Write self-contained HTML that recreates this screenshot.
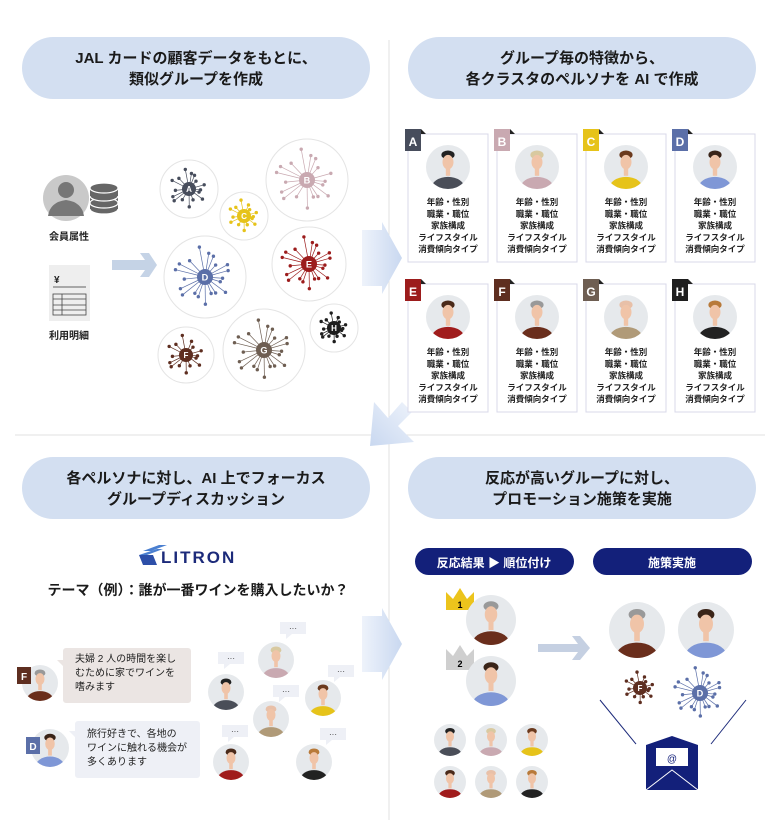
<!DOCTYPE html>
<html><head><meta charset="utf-8">
<style>
html,body{margin:0;padding:0;background:#fff;}
svg{display:block;}
text{font-family:"Liberation Sans","Noto Sans CJK JP",sans-serif;}
</style></head>
<body>
<svg id="s" width="780" height="837" viewBox="0 0 780 837" xmlns="http://www.w3.org/2000/svg">
<defs>
<linearGradient id="ga" x1="0" x2="1" y1="0" y2="0"><stop offset="0" stop-color="#eef3fb"/><stop offset="1" stop-color="#c9d8f0"/></linearGradient>
<linearGradient id="gd" x1="1" x2="0" y1="0" y2="1"><stop offset="0" stop-color="#eef3fb"/><stop offset="1" stop-color="#c9d8f0"/></linearGradient>
</defs>
<line x1="389" y1="40" x2="389" y2="820" stroke="#e2e2e2" stroke-width="1"/>
<line x1="15" y1="435" x2="765" y2="435" stroke="#e2e2e2" stroke-width="1"/>
<g fill="#d3dff1">
<rect x="22" y="37" width="348" height="62" rx="31"/>
<rect x="408" y="37" width="348" height="62" rx="31"/>
<rect x="22" y="457" width="348" height="62" rx="31"/>
<rect x="408" y="457" width="348" height="62" rx="31"/>
</g>
<g font-size="15" font-weight="bold" fill="#1a1a1a" text-anchor="middle">
<text x="196" y="63">JAL カードの顧客データをもとに、</text>
<text x="196" y="84">類似グループを作成</text>
<text x="582" y="63">グループ毎の特徴から、</text>
<text x="582" y="84">各クラスタのペルソナを AI で作成</text>
<text x="196" y="483">各ペルソナに対し、AI 上でフォーカス</text>
<text x="196" y="504">グループディスカッション</text>
<text x="582" y="483">反応が高いグループに対し、</text>
<text x="582" y="504">プロモーション施策を実施</text>
</g>
<path d="M362 230 L382 230 L382 222 L402 258 L382 294 L382 286 L362 286 Z" fill="url(#ga)"/>
<path d="M362 616 L382 616 L382 608 L402 644 L382 680 L382 672 L362 672 Z" fill="url(#ga)"/>
<path d="M412 412 L398 426 L414 442 L370 446 L374 402 L388 418 L402 402 Z" fill="url(#gd)"/>
<circle cx="66" cy="198" r="23" fill="#c9c9c9"/>
<circle cx="66" cy="190" r="8" fill="#777"/>
<path d="M48 216 Q50 202 66 200 Q82 202 84 216 Z" fill="#777"/>
<g fill="#666" stroke="#fff" stroke-width="1.2">
<ellipse cx="104" cy="209" rx="14" ry="5"/><rect x="90" y="196" width="28" height="13" stroke="none"/>
<ellipse cx="104" cy="203" rx="14" ry="5"/><ellipse cx="104" cy="196" rx="14" ry="5"/><rect x="90" y="188" width="28" height="8" stroke="none"/>
<ellipse cx="104" cy="188" rx="14" ry="5"/>
</g>
<text x="69" y="240" font-size="10" font-weight="bold" text-anchor="middle" fill="#222">会員属性</text>
<rect x="49" y="265" width="41" height="56" fill="#eee"/>
<text x="54" y="283" font-size="10" font-weight="bold" fill="#222">¥</text>
<line x1="53" y1="287" x2="86" y2="287" stroke="#333" stroke-width="0.8"/>
<g stroke="#444" stroke-width="0.8" fill="none"><rect x="53" y="294" width="33" height="21"/><line x1="53" y1="299" x2="86" y2="299"/><line x1="53" y1="305" x2="86" y2="305"/><line x1="53" y1="310" x2="86" y2="310"/><line x1="62" y1="294" x2="62" y2="315"/></g>
<text x="69" y="339" font-size="10" font-weight="bold" text-anchor="middle" fill="#222">利用明細</text>
<path d="M112 260 L145 260 L140 253 L149 253 L157 265 L149 277 L140 277 L145 270 L112 270 Z" fill="#c5d3e6"/>
<g id="clusters"></g>
<g id="cards"></g>
<g transform="translate(137,545)">
<path d="M6 6 L22 0 L30 0 L14 6 Z M2 10 L20 4 L26 4 L10 10 Z" fill="#4a7fd0"/>
<path d="M2 10 L16 10 L20 20 L6 20 Z" fill="#2d4fa8"/>
<text x="24" y="18" font-size="17" font-weight="bold" fill="#1c2a7a" letter-spacing="2">LITRON</text>
</g>
<text x="198" y="595" font-size="14" font-weight="bold" text-anchor="middle" fill="#1a1a1a">テーマ（例）：誰が一番ワインを購入したいか？</text>
<path d="M66 648 h122 a3 3 0 0 1 3 3 v49 a3 3 0 0 1 -3 3 h-122 a3 3 0 0 1 -3 -3 v-34 l-6 -6 l6 0 v-9 a3 3 0 0 1 3 -3z" fill="#ebe5e3"/>
<g font-size="10" fill="#222"><text x="75" y="662">夫婦 2 人の時間を楽し</text><text x="75" y="676">むために家でワインを</text><text x="75" y="690">嗜みます</text></g>
<path d="M78 721 h119 a3 3 0 0 1 3 3 v51 a3 3 0 0 1 -3 3 h-119 a3 3 0 0 1 -3 -3 v-38 l-6 -6 l6 0 v-7 a3 3 0 0 1 3 -3z" fill="#eef0f6"/>
<g font-size="10" fill="#222"><text x="87" y="737">旅行好きで、各地の</text><text x="87" y="751">ワインに触れる機会が</text><text x="87" y="765">多くあります</text></g>
<g id="bl"></g>
<rect x="415" y="548" width="159" height="27" rx="13.5" fill="#13207a"/>
<rect x="593" y="548" width="159" height="27" rx="13.5" fill="#13207a"/>
<text x="494" y="567" font-size="12" font-weight="bold" fill="#fff" text-anchor="middle">反応結果 ▶ 順位付け</text>
<text x="672" y="567" font-size="12" font-weight="bold" fill="#fff" text-anchor="middle">施策実施</text>
<path d="M446 592 L453 599 L460 588 L467 599 L474 592 L474 610 L446 610 Z" fill="#ecc41c"/>
<text x="460" y="608" font-size="9" font-weight="bold" text-anchor="middle">1</text>
<path d="M446 649 L453 656 L460 645 L467 656 L474 649 L474 670 L446 670 Z" fill="#cfcfcf"/>
<text x="460" y="667" font-size="9" font-weight="bold" text-anchor="middle">2</text>
<path d="M538 644 L578 644 L572 636 L580 636 L590 648 L580 660 L572 660 L578 652 L538 652 Z" fill="#c5d0e2"/>
<line x1="600" y1="700" x2="636" y2="744" stroke="#1c2a7a" stroke-width="1"/>
<line x1="746" y1="700" x2="711" y2="744" stroke="#1c2a7a" stroke-width="1"/>
<rect x="646" y="745" width="52" height="45" fill="#13207a"/>
<path d="M646 745 L672 736 L698 745 Z" fill="#13207a"/>
<rect x="656" y="748" width="32" height="18" fill="#fff"/>
<text x="672" y="762" font-size="10" text-anchor="middle" fill="#13207a">@</text>
<path d="M646 790 L672 770 L698 790" stroke="#fff" fill="none" stroke-width="1"/>
<g id="br"></g>
</svg>
<script>
var S='http://www.w3.org/2000/svg';
function el(p,t,a,txt){var e=document.createElementNS(S,t);for(var k in a)e.setAttribute(k,a[k]);if(txt)e.textContent=txt;p.appendChild(e);return e;}
var C={A:'#474d5c',B:'#c9a9b1',C:'#e6c31a',D:'#5b6fa8',E:'#9c1c1c',F:'#5e2e20',G:'#6e5e52',H:'#1e1e1e'};
function cluster(g,L,cx,cy,R,sp,ring,nr){
 if(ring)el(g,'circle',{cx:cx,cy:cy,r:R,fill:'#fff',stroke:'#e4e4e4'});
 var n=sp[0],len=sp[1];
 for(var i=0;i<n;i++){var a=i*2.399+0.3,l=len*(0.5+0.5*((i*37)%10)/10);
  var x=cx+Math.cos(a)*l,y=cy+Math.sin(a)*l;
  el(g,'line',{x1:cx,y1:cy,x2:x,y2:y,stroke:C[L],'stroke-width':0.7});
  el(g,'circle',{cx:x,cy:y,r:1.7,fill:C[L]});}
 el(g,'circle',{cx:cx,cy:cy,r:nr,fill:C[L]});
 el(g,'text',{x:cx,y:cy+nr*0.42,'font-size':nr*1.15,'font-weight':'bold','text-anchor':'middle',fill:'#fff'},L);
}
var cg=document.getElementById('clusters');
[['A',189,189,29,[16,21],7],['B',307,180,41,[18,33],8],['C',244,216,24,[14,17],7],['D',205,277,41,[20,32],8],['E',309,264,37,[20,29],8],['F',186,355,28,[15,21],7],['G',264,350,41,[20,32],8],['H',334,328,24,[15,16],7]].forEach(function(c){cluster(cg,c[0],c[1],c[2],c[3],c[4],true,c[5]);});
var skin='#f0c4a8',hair={A:'#222',B:'#d8c9a0',C:'#6b3a1e',D:'#3a2418',E:'#4a2a1a',F:'#999',G:'#e8c0a8',H:'#b87a3a'};
var body={A:'#4a4e58',B:'#c9a9b1',C:'#e6c31a',D:'#7f97d6',E:'#a01c1c',F:'#6a2e1c',G:'#b09a78',H:'#222'};
function avatar(g,L,cx,cy,r){
 el(g,'circle',{cx:cx,cy:cy,r:r,fill:'#e6e9ec'});
 var cp='cp'+Math.random().toString(36).slice(2);
 var d=el(g,'clipPath',{id:cp});el(d,'circle',{cx:cx,cy:cy,r:r});
 var gg=el(g,'g',{'clip-path':'url(#'+cp+')'});
 el(gg,'ellipse',{cx:cx,cy:cy+r*0.95,rx:r*0.75,ry:r*0.5,fill:body[L]});
 el(gg,'rect',{x:cx-r*0.1,y:cy+r*0.05,width:r*0.2,height:r*0.35,fill:skin});
 el(gg,'ellipse',{cx:cx,cy:cy-r*0.55,rx:r*0.3,ry:r*0.2,fill:hair[L]});
 el(gg,'ellipse',{cx:cx,cy:cy-r*0.22,rx:r*0.25,ry:r*0.33,fill:skin});
}
var cards=document.getElementById('cards');
var lines=['年齢・性別','職業・職位','家族構成','ライフスタイル','消費傾向タイプ'];
'ABCDEFGH'.split('').forEach(function(L,i){
 var x=[408,497,586,675][i%4],y=i<4?134:284;
 el(cards,'rect',{x:x,y:y,width:80,height:128,fill:'#fff',stroke:'#d8d8ea'});
 el(cards,'path',{d:'M'+(x+13)+' '+(y-5)+' l5 5 h-5 z',fill:'#222'});
 el(cards,'rect',{x:x-3,y:y-5,width:16,height:22,fill:C[L]});
 el(cards,'text',{x:x+5,y:y+12,'font-size':12,'font-weight':'bold','text-anchor':'middle',fill:'#fff'},L);
 avatar(cards,L,x+40,y+33,22);
 lines.forEach(function(t,j){el(cards,'text',{x:x+40,y:y+71+j*11.8,'font-size':8.5,'font-weight':'bold','text-anchor':'middle',fill:'#222'},t);});
});
var bl=document.getElementById('bl');
avatar(bl,'F',40,683,18);el(bl,'rect',{x:17,y:667,width:14,height:17,fill:C.F});el(bl,'text',{x:24,y:680,'font-size':10,'font-weight':'bold','text-anchor':'middle',fill:'#fff'},'F');
avatar(bl,'D',50,748,19);el(bl,'rect',{x:26,y:737,width:14,height:17,fill:C.D});el(bl,'text',{x:33,y:750,'font-size':10,'font-weight':'bold','text-anchor':'middle',fill:'#fff'},'D');
[['A',226,692,218,652],['B',276,660,280,622],['C',323,698,328,665],['G',271,719,273,685],['E',231,762,222,725],['H',314,762,320,728]].forEach(function(a){
 el(bl,'rect',{x:a[3],y:a[4],width:26,height:12,fill:'#eef0f6'});
 el(bl,'path',{d:'M'+(a[3]+6)+' '+(a[4]+12)+' l0 5 l6 -5z',fill:'#eef0f6'});
 el(bl,'text',{x:a[3]+13,y:a[4]+9,'font-size':8,'text-anchor':'middle',fill:'#333'},'···');
 avatar(bl,a[0],a[1],a[2],18);});
var br=document.getElementById('br');
avatar(br,'F',491,620,25);avatar(br,'D',491,681,25);
avatar(br,'F',637,630,28);avatar(br,'D',706,630,28);
cluster(br,'F',640,688,0,[14,17],false,7);cluster(br,'D',700,693,0,[20,27],false,8);
[['A',450,740],['B',491,740],['C',532,740],['E',450,782],['G',491,782],['H',532,782]].forEach(function(a){avatar(br,a[0],a[1],a[2],16);});
</script>
</body></html>
